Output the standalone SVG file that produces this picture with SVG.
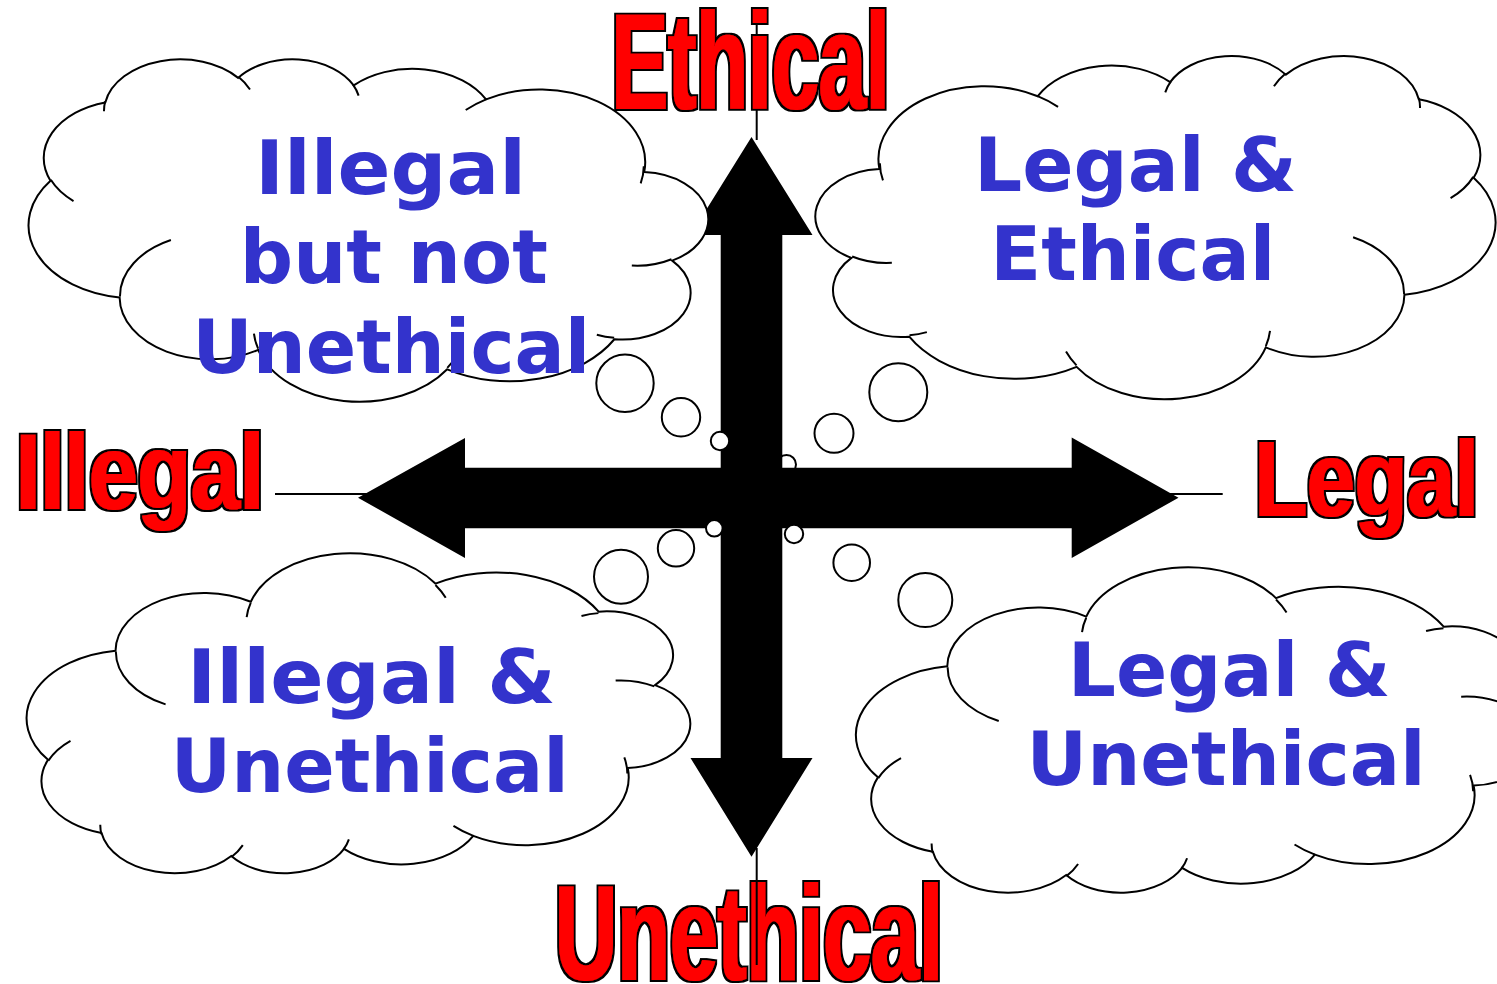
<svg xmlns="http://www.w3.org/2000/svg" xmlns:xlink="http://www.w3.org/1999/xlink" width="1497" height="984" viewBox="0 0 1497 984">
<style>
.cloud{fill:#fff;stroke:#000;stroke-width:2}
.inner{fill:none;stroke:#000;stroke-width:2}
.bubble{fill:#fff;stroke:#000;stroke-width:2}
.blue{font-family:"DejaVu Sans",Verdana,sans-serif;font-weight:bold;font-size:74px;fill:#3333CC;text-anchor:middle}
.red{font-family:"Liberation Sans",Arial,sans-serif;font-weight:bold;fill:#FF0000;text-anchor:middle;filter:url(#impact)}
.axis{stroke:#000;stroke-width:2;fill:none}
.arrow{fill:#000;stroke:none}
</style>
<defs>
<filter id="impact" x="-5%" y="-10%" width="110%" height="120%">
<feMorphology in="SourceGraphic" operator="dilate" radius="1.3 0.4" result="fat"/>
<feMorphology in="SourceAlpha" operator="dilate" radius="2.8 1.8" result="outer"/>
<feFlood flood-color="#000" result="blk"/>
<feComposite in="blk" in2="outer" operator="in" result="outline"/>
<feMerge><feMergeNode in="outline"/><feMergeNode in="fat"/></feMerge>
</filter>
<path id="cloudOuter" vector-effect="non-scaling-stroke" d="M3900 14370 A6753 9190 0 0 1 14005 5202 A5333 7267 0 0 1 22456 3433 A4365 5945 0 0 1 29834 2483 A4857 6595 0 0 1 38320 5578 A5333 7273 0 0 1 41820 15462 A6775 9220 0 0 1 37405 30204 A5785 7867 0 0 1 28557 36815 A6752 9215 0 0 1 16483 39270 A7720 10543 0 0 1 5806 35475 A4360 5918 0 0 1 2115 25553 A4345 5945 0 0 1 3900 14370 Z"/>
<path id="cloudInner" vector-effect="non-scaling-stroke" d="M4693 26177 A4345 5945 0 0 1 2160 25380 M6928 34899 A4360 5918 0 0 1 5820 35280 M16478 39090 A6752 9215 0 0 1 15808 37345 M28827 34751 A6752 9215 0 0 1 28560 36660 M34129 22954 A5785 7867 0 0 1 37381 30090 M41798 15354 A5333 7273 0 0 1 40349 18031 M38324 5426 A4857 6595 0 0 1 38400 6690 M29078 3952 A4857 6595 0 0 1 29820 2340 M22141 4720 A4365 5945 0 0 1 22500 3331 M14000 5192 A6753 9190 0 0 1 15301 6542 M4127 15789 A6753 9190 0 0 1 3929 13626"/>
</defs>
<rect width="1497" height="984" fill="#fff"/>

<g id="cloud-legal-ethical">
<g transform="translate(818.3,54.9) scale(0.015670,0.0079435)">
<use href="#cloudOuter" class="cloud"/>
<use href="#cloudInner" class="inner"/>
</g>
<circle class="bubble" cx="898.3" cy="392.3" r="29"/>
<circle class="bubble" cx="834" cy="433.3" r="19.5"/>
<circle class="bubble" cx="786.5" cy="464.5" r="9.5"/>
<text class="blue" x="1135.6" y="190.7" textLength="323" lengthAdjust="spacingAndGlyphs">Legal &amp;</text>
<text class="blue" x="1132.8" y="280" textLength="285" lengthAdjust="spacingAndGlyphs">Ethical</text>
</g>

<g id="connectors">
<line class="axis" x1="756.7" y1="14" x2="756.7" y2="140"/>
<line class="axis" x1="275" y1="494" x2="1222.7" y2="494"/>
<polygon class="arrow" points="751.5,137 812.5,235 782.3,235 782.3,758 812.5,758 751.5,856.7 690.5,758 720.7,758 720.7,235 690.5,235"/>
<polygon class="arrow" points="358,497.7 465,438 465,467.7 1071.7,467.7 1071.7,437.5 1178.5,497.7 1071.7,558 1071.7,528.3 465,528.3 465,558"/>
</g>

<g id="cloud-illegal-not-unethical">
<g transform="translate(705.3,58.2) scale(-0.015658,0.0079226)">
<use href="#cloudOuter" class="cloud"/>
<use href="#cloudInner" class="inner"/>
</g>
<circle class="bubble" cx="625" cy="383.3" r="28.7"/>
<circle class="bubble" cx="681" cy="417.3" r="19.2"/>
<circle class="bubble" cx="720" cy="441" r="9.2"/>
<text class="blue" x="390.5" y="194" textLength="271" lengthAdjust="spacingAndGlyphs">Illegal</text>
<text class="blue" x="393.8" y="283.3" textLength="308" lengthAdjust="spacingAndGlyphs">but not</text>
<text class="blue" x="391.3" y="373.3" textLength="398" lengthAdjust="spacingAndGlyphs">Unethical</text>
</g>

<g id="cloud-illegal-unethical">
<g transform="translate(687.4,874.35) scale(-0.015289,-0.0074043)">
<use href="#cloudOuter" class="cloud"/>
<use href="#cloudInner" class="inner"/>
</g>
<circle class="bubble" cx="621" cy="576.7" r="27"/>
<circle class="bubble" cx="676" cy="548.3" r="18.2"/>
<circle class="bubble" cx="714.3" cy="528.3" r="8.3"/>
<text class="blue" x="371.5" y="703.3" textLength="369" lengthAdjust="spacingAndGlyphs">Illegal &amp;</text>
<text class="blue" x="369.7" y="791.7" textLength="398" lengthAdjust="spacingAndGlyphs">Unethical</text>
</g>

<g id="cloud-legal-unethical">
<g transform="translate(1534.9,893.77) scale(-0.015710,-0.0075293)">
<use href="#cloudOuter" class="cloud"/>
<use href="#cloudInner" class="inner"/>
</g>
<circle class="bubble" cx="925.3" cy="600" r="27"/>
<circle class="bubble" cx="851.7" cy="562.7" r="18.3"/>
<circle class="bubble" cx="794" cy="534" r="9.2"/>
<text class="blue" x="1229.3" y="696" textLength="323" lengthAdjust="spacingAndGlyphs">Legal &amp;</text>
<text class="blue" x="1226.1" y="785" textLength="399" lengthAdjust="spacingAndGlyphs">Unethical</text>
</g>

<g id="label-ethical"><text class="red" x="750.5" y="108.5" font-size="137" textLength="278" lengthAdjust="spacingAndGlyphs">Ethical</text></g>
<g id="label-illegal"><text class="red" x="140" y="508.5" font-size="108" textLength="248" lengthAdjust="spacingAndGlyphs">Illegal</text></g>
<g id="label-legal"><text class="red" x="1366.7" y="516" font-size="108" textLength="224" lengthAdjust="spacingAndGlyphs">Legal</text></g>
<g id="label-unethical"><text class="red" x="749" y="979.5" font-size="136" textLength="388" lengthAdjust="spacingAndGlyphs">Unethical</text></g>
<g id="axis-bottom"><line class="axis" x1="756.7" y1="848" x2="756.7" y2="965"/></g>
</svg>
